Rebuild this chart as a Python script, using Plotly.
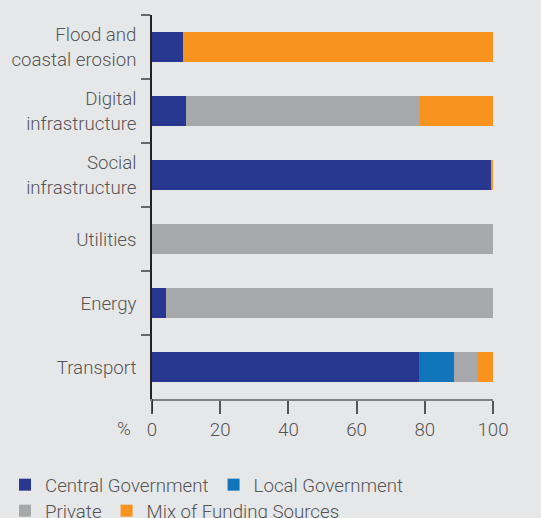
import plotly.graph_objects as go

categories = ["Flood and<br>coastal erosion", "Digital<br>infrastructure", "Social<br>infrastructure",
              "Utilities", "Energy", "Transport"]
central = [9.0, 10.0, 99.5, 0.0, 4.0, 78.3]
local = [0.0, 0.0, 0.0, 0.0, 0.0, 10.4]
private = [0.0, 68.7, 0.0, 100.0, 96.0, 6.5]
mix = [91.0, 21.3, 0.5, 0.0, 0.0, 4.8]
x_ticks = [0, 20, 40, 60, 80, 100]

series = [
    ("Central Government", central, "#283891", "legend"),
    ("Local Government", local, "#1175bb", "legend"),
    ("Private", private, "#a6a8ab", "legend2"),
    ("Mix of Funding Sources", mix, "#f7931e", "legend2"),
]

FONT = "Roboto"
FS = 18.7
TXT = "#555555"
BG = "#e6e7e9"

fig = go.Figure()
for name, vals, color, lg in series:
    fig.add_trace(go.Bar(
        y=categories, x=vals, name=name, orientation="h",
        marker=dict(color=color, line=dict(width=0)),
        width=0.47, legend=lg,
    ))

W, H = 541, 518
ml, mr, mt, mb = 152, 48, 15, 119
pw = W - ml - mr
ph = H - mt - mb
bottom = H - mb  # pixel y of the x axis


def px_x(px):
    return (px - ml) / pw


def px_y(py):
    return (bottom - py) / ph


legend_font = dict(family=FONT, size=FS, color=TXT, weight=300)

fig.update_layout(
    width=W, height=H,
    margin=dict(l=ml, r=mr, t=mt, b=mb, autoexpand=False),
    barmode="stack",
    paper_bgcolor=BG, plot_bgcolor=BG,
    font=dict(family=FONT, size=FS, color=TXT, weight=300),
    showlegend=True,
    legend=dict(orientation="h", xref="paper", yref="paper",
                x=px_x(5), y=px_y(466), xanchor="left", yanchor="top",
                font=legend_font, bgcolor="rgba(0,0,0,0)", traceorder="normal"),
    legend2=dict(orientation="h", xref="paper", yref="paper",
                 x=px_x(5), y=px_y(492), xanchor="left", yanchor="top",
                 font=legend_font, bgcolor="rgba(0,0,0,0)", traceorder="normal"),
    xaxis=dict(range=[0, 100], tickvals=x_ticks, ticktext=[str(v) for v in x_ticks],
               showgrid=False, zeroline=False, showline=True, linecolor="#808080", linewidth=2,
               ticks="outside", ticklen=13, tickwidth=1.5, tickcolor="#555555",
               tickfont=dict(family=FONT, size=FS, color=TXT, weight=300), fixedrange=True),
    yaxis=dict(categoryorder="array", categoryarray=categories, autorange="reversed",
               showgrid=False, zeroline=False, showline=True, linecolor="#222222", linewidth=1.5,
               ticks="outside", tickson="boundaries", ticklen=9, tickwidth=2, tickcolor="#666666",
               ticklabelstandoff=10,
               tickfont=dict(family=FONT, size=FS, color=TXT, weight=300), fixedrange=True),
)

fig.add_shape(type="line", xref="x", yref="paper", x0=0, x1=0, y0=0, y1=-13 / ph,
              line=dict(color="#222222", width=1.5))

fig.add_annotation(text="%", xref="paper", yref="paper",
                   x=px_x(133), y=px_y(429),
                   xanchor="right", yanchor="middle", showarrow=False,
                   font=dict(family=FONT, size=FS, color=TXT, weight=300))

fig.write_html("out.html")
